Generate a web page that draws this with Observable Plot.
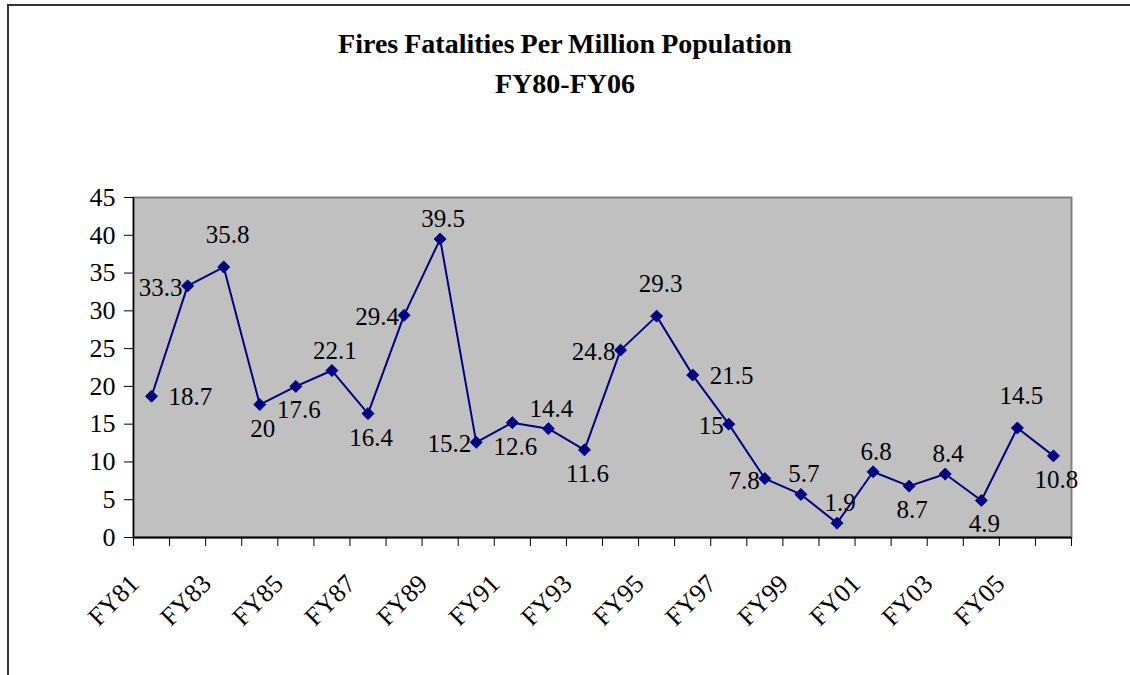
<!DOCTYPE html>
<html>
<head>
<meta charset="utf-8">
<script src="https://cdn.jsdelivr.net/npm/d3@7"></script>
<script src="https://cdn.jsdelivr.net/npm/@observablehq/plot@0.6"></script>
<style>
  html, body { margin: 0; padding: 0; background: #fff; }
  #wrap { position: relative; width: 1130px; height: 675px; overflow: hidden; font-family: "Liberation Serif", "Times New Roman", serif; }
  #border { position: absolute; left: 7px; top: 4px; width: 1200px; height: 700px; border-top: 2px solid #333; border-left: 2px solid #333; box-sizing: border-box; }
  #title { position: relative; height: 150px; text-align: center; font-weight: bold; font-size: 28px; letter-spacing: 0px; word-spacing: -1px; color: #000; }
  #title .l1 { position: absolute; left: 0; right: 0; top: 28px; }
  #title .l2 { position: absolute; left: 0; right: 0; top: 68px; }
  #chart { position: relative; }
</style>
</head>
<body>
<div id="wrap">
  <div id="border"></div>
  <div id="title"><div class="l1">Fires Fatalities Per Million Population</div><div class="l2">FY80-FY06</div></div>
  <div id="chart"></div>
</div>
<script>
// Categories (fiscal years)
const categories = ["FY81","FY82","FY83","FY84","FY85","FY86","FY87","FY88","FY89","FY90",
  "FY91","FY92","FY93","FY94","FY95","FY96","FY97","FY98","FY99","FY00",
  "FY01","FY02","FY03","FY04","FY05","FY06"];
// Plotted values (line)
const values = [18.7, 33.3, 35.8, 17.6, 20, 22.1, 16.4, 29.4, 39.5, 12.6,
  15.2, 14.4, 11.6, 24.8, 29.3, 21.5, 15, 7.8, 5.7, 1.9,
  8.7, 6.8, 8.4, 4.9, 14.5, 10.8];
// Data label texts as shown next to each point
const labelTexts = ["18.7","33.3","35.8","20","17.6","22.1","16.4","29.4","39.5","15.2",
  "12.6","14.4","11.6","24.8","29.3","21.5","15","7.8","5.7","1.9",
  "6.8","8.7","8.4","4.9","14.5","10.8"];
// Y tick values
const yTicks = [0, 5, 10, 15, 20, 25, 30, 35, 40, 45];

// Label placement codes (layout config)
const labelPlacement = ["right","left","high","below","below","above","below","left","above","left",
  "below","above","below","left","high","right","left","left","above","above",
  "above","below","above","below","high","below"];
const placementStyle = {
  above: {dx: 3, dy: -20, textAnchor: "middle"},
  high:  {dx: 4, dy: -32, textAnchor: "middle"},
  below: {dx: 3, dy: 24, textAnchor: "middle"},
  left:  {dx: -5, dy: 2, textAnchor: "end"},
  right: {dx: 17, dy: 1, textAnchor: "start"}
};

const data = categories.map((c, i) => ({cat: c, idx: i + 0.5, value: values[i], label: labelTexts[i], place: labelPlacement[i]}));

const font = "'Liberation Serif', 'Times New Roman', serif";
const navy = "#000080";

const labelMarks = Object.entries(placementStyle).map(([k, s]) =>
  Plot.text(data.filter(d => d.place === k), {
    x: "idx", y: "value", text: "label",
    dx: s.dx, dy: s.dy, textAnchor: s.textAnchor,
    fontSize: 25, fill: "#000"
  })
);

const boundaries = d3.range(0, categories.length + 1);
const labelTicks = data.filter((d, i) => i % 2 === 0 && i < 25).map(d => d.idx);

const chart = Plot.plot({
  width: 1130,
  height: 525,
  marginTop: 47,
  marginBottom: 138,
  marginLeft: 133,
  marginRight: 59,
  style: {fontFamily: font, background: "transparent", color: "#000"},
  x: {type: "linear", domain: [0, categories.length]},
  y: {domain: [0, 45]},
  marks: [
    Plot.frame({fill: "#c0c0c0", stroke: "#808080", strokeWidth: 2}),
    Plot.axisY({ticks: yTicks, tickSize: 9, tickPadding: 9, fontSize: 26, label: null, stroke: "#000"}),
    Plot.axisX({ticks: boundaries, tickSize: 9, tickFormat: () => "", label: null, stroke: "#000"}),
    Plot.axisX({ticks: labelTicks, tickSize: 0, tickPadding: 42, tickRotate: -45, dx: -17,
      tickFormat: d => categories[Math.floor(d)], fontSize: 26, label: null}),
    Plot.ruleX([0], {stroke: "#000", strokeWidth: 1.5}),
    Plot.ruleY([0], {stroke: "#000", strokeWidth: 2}),
    Plot.line(data, {x: "idx", y: "value", stroke: navy, strokeWidth: 2}),
    Plot.dot(data, {x: "idx", y: "value", symbol: "diamond2", r: 5.4, fill: navy, stroke: navy, strokeWidth: 1}),
    ...labelMarks
  ]
});
document.getElementById("chart").appendChild(chart);
</script>
</body>
</html>
